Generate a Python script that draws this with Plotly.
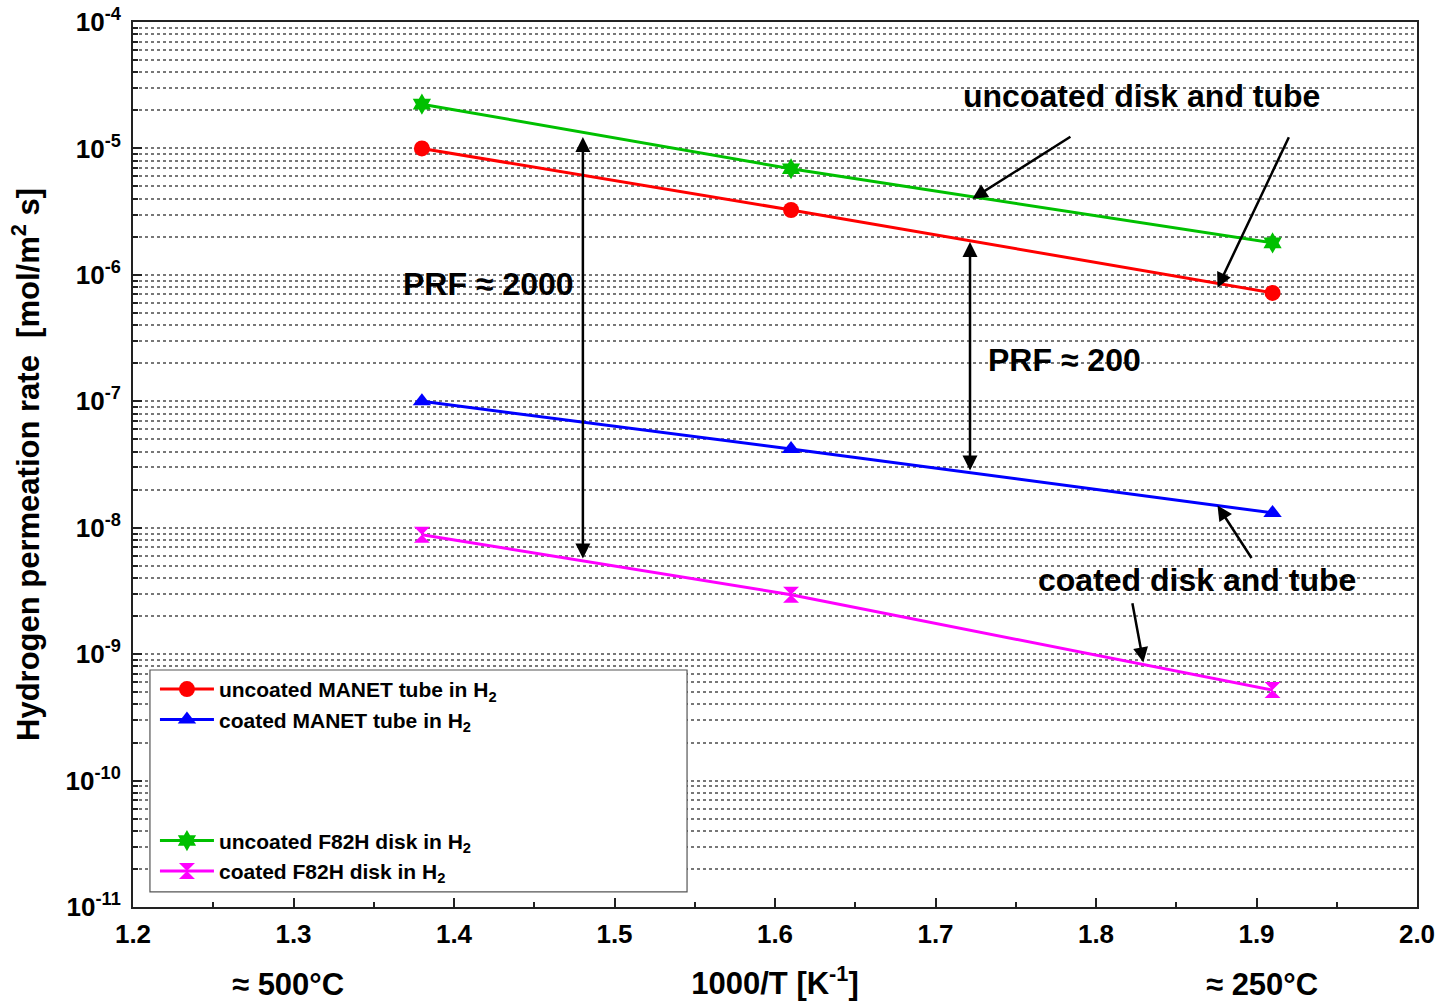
import plotly.graph_objects as go
import math

# ---- data ----
inv_T = [1.38, 1.61, 1.91]
uncoated_manet = [1.0e-5, 3.26e-6, 7.2e-7]
coated_manet = [1.0e-7, 4.2e-8, 1.31e-8]
uncoated_f82h = [2.24e-5, 6.9e-6, 1.79e-6]
coated_f82h = [8.8e-9, 2.95e-9, 5.2e-10]

y_tick_vals = [1e-11, 1e-10, 1e-9, 1e-8, 1e-7, 1e-6, 1e-5, 1e-4]
y_tick_text = ["10<sup>-11</sup>", "10<sup>-10</sup>", "10<sup>-9</sup>", "10<sup>-8</sup>",
               "10<sup>-7</sup>", "10<sup>-6</sup>", "10<sup>-5</sup>", "10<sup>-4</sup>"]

FONT = "Liberation Sans, Arial, sans-serif"

fig = go.Figure()

series = [
    ("uncoated MANET tube in H<sub>2</sub>", uncoated_manet, "#ff0000", "circle", 16),
    ("coated MANET tube in H<sub>2</sub>", coated_manet, "#0000ff", "triangle-up", 16),
    (" ", None, None, None, None),
    ("  ", None, None, None, None),
    ("   ", None, None, None, None),
    ("uncoated F82H disk in H<sub>2</sub>", uncoated_f82h, "#00c000", "hexagram", 16),
    ("coated F82H disk in H<sub>2</sub>", coated_f82h, "#ff00ff", "hourglass", 16),
]

for name, vals, color, sym, size in series:
    if vals is None:
        fig.add_trace(go.Scatter(x=[None], y=[None], mode="lines", name=name,
                                 line=dict(color="rgba(0,0,0,0)", width=0),
                                 showlegend=True, hoverinfo="skip"))
    else:
        fig.add_trace(go.Scatter(x=inv_T, y=vals, mode="lines+markers", name=name,
                                 line=dict(color=color, width=3),
                                 marker=dict(symbol=sym, size=size, color=color,
                                             line=dict(width=0))))

L = math.log10
ann_font = dict(family=FONT, size=32, color="black", weight="bold")

annotations = [
    dict(text="uncoated disk and tube", x=1.716, y=L(2.6e-5), xref="x", yref="y",
         showarrow=False, font=ann_font, xanchor="left", yanchor="middle"),
    dict(text="PRF ≈ 2000", x=1.367, y=L(8.5e-7), xref="x", yref="y",
         showarrow=False, font=ann_font, xanchor="left", yanchor="middle"),
    dict(text="PRF ≈ 200", x=1.7317, y=L(2.12e-7), xref="x", yref="y",
         showarrow=False, font=ann_font, xanchor="left", yanchor="middle"),
    dict(text="coated disk and tube", x=1.7629, y=L(3.86e-9), xref="x", yref="y",
         showarrow=False, font=ann_font, xanchor="left", yanchor="middle"),
]

# arrows
arrow_common = dict(xref="x", yref="y", axref="x", ayref="y", text="", showarrow=True,
                    arrowhead=2, arrowsize=1.2, arrowwidth=2.5, arrowcolor="black")
arrows = [
    # double arrows
    dict(x=1.4803, y=L(1.23e-5), ax=1.4803, ay=L(5.55e-9), arrowside="end+start"),
    dict(x=1.7215, y=L(1.82e-6), ax=1.7215, ay=L(2.76e-8), arrowside="end+start"),
    # pointing arrows
    dict(x=1.723, y=L(4.0e-6), ax=1.7850, ay=L(1.26e-5)),
    dict(x=1.8757, y=L(7.9e-7), ax=1.9206, ay=L(1.26e-5)),
    dict(x=1.8757, y=L(1.5e-8), ax=1.8975, ay=L(5.6e-9)),
    dict(x=1.8295, y=L(8.6e-10), ax=1.8225, ay=L(2.6e-9)),
]
for a in arrows:
    d = dict(arrow_common)
    d.update(a)
    annotations.append(d)

# temperature labels
temp_font = dict(family=FONT, size=31, color="black", weight="bold")
annotations.append(dict(text="≈ 500°C", x=1.2966, y=-0.088, xref="x", yref="paper",
                        xanchor="center", yanchor="middle", showarrow=False, font=temp_font))
annotations.append(dict(text="≈ 250°C", x=1.9034, y=-0.088, xref="x", yref="paper",
                        xanchor="center", yanchor="middle", showarrow=False, font=temp_font))

fig.update_layout(
    width=1439, height=1001,
    margin=dict(l=133, r=22, t=22, b=94, autoexpand=False),
    paper_bgcolor="white", plot_bgcolor="white",
    font=dict(family=FONT, color="black"),
    annotations=annotations,
    showlegend=True,
    legend=dict(x=0.0171, y=0.269, xanchor="left", yanchor="top",
                bgcolor="rgba(0,0,0,0)", borderwidth=0,
                font=dict(family=FONT, size=21, color="black", weight="bold"),
                itemwidth=54, tracegroupgap=0),
    shapes=[dict(type="rect", xref="paper", yref="paper",
                 x0=0.0132, x1=0.4315, y0=0.0170, y1=0.2678,
                 fillcolor="white", line=dict(color="#555555", width=1.2), layer="above")],
)

fig.update_xaxes(
    range=[1.2, 2.0], dtick=0.1, tick0=1.2, tickformat=".1f",
    ticks="inside", ticklen=9, tickwidth=1.5, tickcolor="#222222",
    minor=dict(dtick=0.05, ticks="inside", ticklen=5, tickwidth=1.5, tickcolor="#222222"),
    showline=True, linecolor="#222222", linewidth=2, mirror=True,
    showgrid=False, zeroline=False, automargin=False, ticklabelstandoff=3,
    tickfont=dict(family=FONT, size=26, color="black", weight="bold"),
    title=dict(text="1000/T [K<sup>-1</sup>]", standoff=25,
               font=dict(family=FONT, size=31, color="black", weight="bold")),
)

fig.update_yaxes(
    type="log", range=[-11, -4],
    tickmode="array", tickvals=y_tick_vals, ticktext=y_tick_text,
    ticks="inside", ticklen=9, tickwidth=1.5, tickcolor="#222222",
    showgrid=True, gridcolor="#777777", gridwidth=1.5, griddash="dot",
    minor=dict(dtick="D1", ticks="inside", ticklen=5, tickwidth=1.5, tickcolor="#222222",
               showgrid=True, gridcolor="#777777", gridwidth=1.5, griddash="dot"),
    showline=True, linecolor="#222222", linewidth=2, mirror=True,
    zeroline=False, automargin=False, ticklabelstandoff=5,
    tickfont=dict(family=FONT, size=26, color="black", weight="bold"),
    title=dict(text="Hydrogen permeation rate  [mol/m<sup>2</sup> s]", standoff=17,
               font=dict(family=FONT, size=31, color="black", weight="bold")),
)

fig.write_html("out.html")
